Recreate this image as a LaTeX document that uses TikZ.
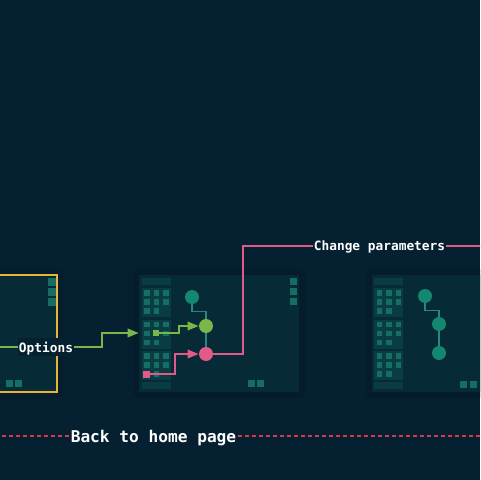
\documentclass[tikz,border=0pt]{standalone}
\usepackage{fontspec}
\setmonofont{DejaVu Sans Mono}
\usetikzlibrary{arrows.meta, positioning}

\definecolor{bg}{HTML}{052031}
\definecolor{halo}{HTML}{041C2B}
\definecolor{panelbg}{HTML}{062B37}
\definecolor{sidebg}{HTML}{0A3C44}
\definecolor{tile}{HTML}{146E66}
\definecolor{tealdot}{HTML}{13876F}
\definecolor{linkc}{HTML}{2C8584}
\definecolor{greenc}{HTML}{7AB648}
\definecolor{pinkc}{HTML}{E25A88}
\definecolor{goldc}{HTML}{E6B43A}
\definecolor{redc}{HTML}{D83A4C}

\begin{document}
\begin{tikzpicture}[x=0.02cm, y=-0.02cm,
  panel/.style = {fill=panelbg, inner sep=0pt, minimum height=2.34cm},
    dot/.style = {circle, inner sep=0pt, minimum size=0.28cm},
    pin/.style = {rectangle, inner sep=0pt, minimum size=0.12cm},
    tag/.style = {fill=bg, text=white, inner xsep=0.02cm, inner ysep=0.08cm, text depth=0pt,
                  font=\ttfamily\bfseries\fontsize{7.3pt}{9pt}\selectfont},
   link/.style = {draw=linkc, line width=0.028cm},
   wire/.style = {line width=0.038cm, -{Triangle[length=0.22cm, width=0.17cm]}}]
  \useasboundingbox (0,0) rectangle (480,480);
  \fill[bg] (0,0) rectangle (480,480);
  \clip (0,0) rectangle (480,480);

  % panels
  \fill[halo, rounded corners=0.12cm] (-10,269) rectangle (63,398);
  \fill[halo, rounded corners=0.12cm] (133,269) rectangle (305,398);
  \fill[halo, rounded corners=0.12cm] (366,269) rectangle (500,398);
  \node[panel, draw=goldc, line width=0.035cm, minimum width=1.4cm] (start) at (22,333.5) {};
  \node[panel, minimum width=3.2cm] (mid) at (219,333.5) {};
  \node[panel, minimum width=3.2cm] (last) at (452,333.5) {};

  % sidebars
  \foreach \sx in {141.5,374}{
    \fill[sidebg] (\sx,278) rectangle ++(29,7);
    \fill[sidebg] (\sx,382) rectangle ++(29,7);
    \foreach \by in {288,319.5,351}{
      \fill[sidebg] (\sx,\by) rectangle ++(29,29);
      \foreach \c/\r in {0/0,1/0,2/0,0/1,1/1,2/1,0/2,1/2}
        \fill[tile] (\sx+2.5+9.5*\c,\by+2+9*\r) rectangle ++(5.5,5.5);
    }
  }
  \foreach \r in {0,1,2}{
    \fill[tile] (48,278+10*\r) rectangle ++(7.5,7.5);
    \fill[tile] (290,278+10*\r) rectangle ++(7,7);
  }
  \foreach \tx/\ty in {6/380, 14.5/380, 248/380, 256.5/380, 460/381, 469.5/381}
    \fill[tile] (\tx,\ty) rectangle ++(7,7);

  % dots
  \node[dot, fill=tealdot] (m1) at (192,297) {};
  \node[dot, fill=greenc]  (m2) at (206,326) {};
  \node[dot, fill=pinkc]   (m3) at (206,354) {};
  \node[dot, fill=tealdot] (r1) at (425,296) {};
  \node[dot, fill=tealdot] (r2) at (439,324) {};
  \node[dot, fill=tealdot] (r3) at (439,353) {};
  \draw[link] (m1.south) -- ++(0,7) -| (m2.north);
  \draw[link] (m2) -- (m3);
  \draw[link] (r1.south) -- ++(0,7) -| (r2.north);
  \draw[link] (r2) -- (r3);

  % inputs
  \node[pin, fill=greenc] (optsq) at (156,333) {};
  \node[pin, fill=pinkc, minimum size=0.14cm] (parsq) at (146,374) {};
  \draw[wire, greenc] (optsq.east) -- ++(20,0) |- (m2.west);
  \draw[wire, pinkc] (parsq.east) -- ++(25,0) |- (m3.west);

  % labels
  \node[tag] (opt) at (46,347) {Options};
  \node[tag] (chg) at (379.5,246) {Change parameters};
  \node[tag, font=\ttfamily\bfseries\fontsize{9.2pt}{11pt}\selectfont] (home) at (153.5,436) {Back to home page};
  \coordinate (optin) at (-5,347);
  \coordinate (chgout) at (490,246);
  \coordinate (homel) at (-5,436);
  \coordinate (homer) at (490,436);

  \draw[line width=0.038cm, greenc] (optin) -- (opt.west);
  \draw[wire, greenc] (opt.east) -- ++(28,0) |- (mid.west |- optsq);
  \draw[line width=0.038cm, pinkc] (m3.east) -- ++(30,0) |- (chg.west);
  \draw[line width=0.038cm, pinkc] (chg.east) -- (chgout);
  \draw[redc, line width=0.03cm, dash pattern=on 0.08cm off 0.06cm] (homel) -- (home.west);
  \draw[redc, line width=0.03cm, dash pattern=on 0.08cm off 0.06cm] (home.east) -- (homer);
\end{tikzpicture}
\end{document}
